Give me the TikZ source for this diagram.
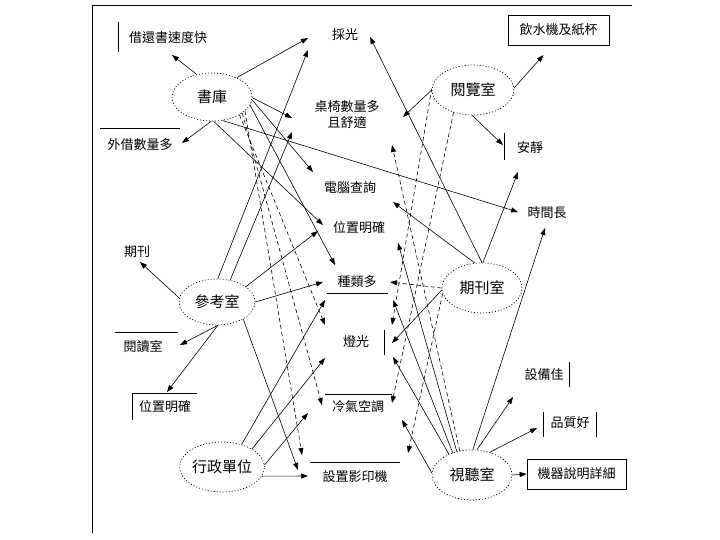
\documentclass[tikz,border=0pt]{standalone}
\usepackage{fontspec}
\newfontfamily\cjk{Noto Sans CJK TC}
\usetikzlibrary{shapes.geometric,arrows.meta}
\begin{document}
\begin{tikzpicture}[x=1pt,y=-1pt,
  room/.style={ellipse, draw, dash pattern=on 1pt off 2pt, line width=0.7pt, inner sep=0pt, font=\cjk\fontsize{15}{17}\selectfont},
  attr/.style={inner sep=0pt, font=\cjk\fontsize{13}{16}\selectfont},
  boxed/.style={attr, draw, line width=0.8pt},
  link/.style={line width=0.6pt, -{Triangle[length=7pt,width=5pt]}},
  dlink/.style={link, dash pattern=on 4pt off 3pt},
  deco/.style={line width=0.8pt}]
\useasboundingbox (0,0) rectangle (720,540);
\draw[deco] (632,5) -- (92,5) -- (92,533);

% rooms
\node[room, minimum width=80pt, minimum height=48pt] (S) at (212,97) {書庫};
\node[room, minimum width=82pt, minimum height=50pt] (L) at (473,90) {閱覽室};
\node[room, minimum width=76pt, minimum height=46pt] (R) at (217,302) {參考室};
\node[room, minimum width=80pt, minimum height=50pt] (P) at (482,288) {期刊室};
\node[room, minimum width=84pt, minimum height=50pt] (A) at (222,467) {行政單位};
\node[room, minimum width=80pt, minimum height=50pt] (V) at (472,475) {視聽室};

% attributes
\node[attr] (T1) at (168,38) {借還書速度快};
\node[attr] (T2) at (140,145) {外借數量多};
\node[attr] (T3) at (345,35) {採光};
\node[attr, align=center] (T4) at (347,115) {桌椅數量多\\且舒適};
\node[attr] (T5) at (350,188) {電腦查詢};
\node[attr] (T6) at (359,228) {位置明確};
\node[attr] (T7) at (357,282) {種類多};
\node[attr] (T8) at (356,342) {燈光};
\node[attr] (T9) at (358,407) {冷氣空調};
\node[attr] (T10) at (355,477) {設置影印機};
\node[attr] (T11) at (137,252) {期刊};
\node[attr] (T12) at (143,347) {閱讀室};
\node[attr] (T13) at (165,407) {位置明確};
\node[boxed, minimum width=101pt, minimum height=30pt] (T14) at (558.5,30) {飲水機及紙杯};
\node[attr] (T15) at (530,148) {安靜};
\node[attr] (T16) at (547,213) {時間長};
\node[attr] (T17) at (544,375) {設備佳};
\node[attr] (T18) at (570,423) {品質好};
\node[boxed, minimum width=99pt, minimum height=30pt] (T19) at (576.5,474) {機器說明詳細};

% partial frames
\draw[deco] (118,22) -- (118,52);
\draw[deco] (100,128) -- (180,128);
\draw[deco] (327,293) -- (388,293);
\draw[deco] (384,330) -- (384,355);
\draw[deco] (325,394) -- (392,394);
\draw[deco] (310,462) -- (400,462);
\draw[deco] (115,332) -- (178,332);
\draw[deco] (132,420) -- (132,393) -- (197,393);
\draw[deco] (504,133) -- (504,160);
\draw[deco] (569,362) -- (569,387);
\draw[deco] (543,412) -- (543,437);
\draw[deco] (596,412) -- (596,437);

% 書庫
\draw[link] (S.124) -- ([shift={(4,17)}]T1.center);
\draw[link] (S.38) -- ([shift={(-37,3)}]T3.center);
\draw[link] (S.-92) -- ([shift={(42,-2)}]T2.center);
\draw[link] (S.-1) -- ([shift={(-55,3)}]T4.center);
\draw[link] (S.-4) -- ([shift={(-37,-16)}]T5.center);
\draw[link] (S.-66) -- ([shift={(-29,-1)}]T16.center);
\draw[link] (S.-86) -- ([shift={(-36,-3)}]T6.center);
\draw[link] (S.-12) -- ([shift={(-22,-17)}]T7.center);
\draw[dlink] (S.-33) -- ([shift={(-31,-17)}]T8.center);
\draw[dlink] (S.-28) -- ([shift={(-36,-2)}]T9.center);
\draw[dlink] (S.-23) -- ([shift={(-53,-22)}]T10.center);

% 參考室
\draw[link] (R.174) -- ([shift={(3,10)}]T11.center);
\draw[link] (R.-88) -- ([shift={(37,-2)}]T12.center);
\draw[link] (R.-88) -- ([shift={(2,-15)}]T13.center);
\draw[link] (R.88) -- ([shift={(-37,15)}]T3.center);
\draw[link] (R.59) -- ([shift={(-55,17)}]T4.center);
\draw[link] (R.28) -- ([shift={(-41,3)}]T6.center);
\draw[link] (R.0) -- ([shift={(-34,0)}]T7.center);
\draw[link] (R.-33) -- ([shift={(-57,-7)}]T10.center);

% 行政單位
\draw[link] (A.49) -- ([shift={(-32,18)}]T7.center);
\draw[link] (A.31) -- ([shift={(-31,16)}]T8.center);
\draw[link] (A.3) -- ([shift={(-50,6)}]T9.center);
\draw[link] (A.-13) -- ([shift={(-47,-1)}]T10.center);

% 閱覽室
\draw[link] (L.3) -- ([shift={(-15,25)}]T14.center);
\draw[link] (L.-92) -- ([shift={(-27,-3)}]T15.center);
\draw[link] (L.180) -- ([shift={(56,2)}]T4.center);
\draw[dlink] (L.178) -- ([shift={(36,-17)}]T8.center);
\draw[dlink] (L.229) -- ([shift={(34,-4)}]T9.center);

% 期刊室
\draw[link] (P.90) -- ([shift={(25,2)}]T3.center);
\draw[link] (P.88) -- ([shift={(-12,24)}]T15.center);
\draw[link] (P.106) -- ([shift={(43,14)}]T5.center);
\draw[dlink] (P.180) -- ([shift={(33,0)}]T7.center);
\draw[link] (P.183) -- ([shift={(36,1)}]T8.center);
\draw[dlink] (P.188) -- ([shift={(53,-24)}]T10.center);

% 視聽室
\draw[link] (V.0) -- (T19.west);
\draw[link] (V.52) -- ([shift={(-33,5)}]T18.center);
\draw[link] (V.79) -- ([shift={(-31,22)}]T17.center);
\draw[link] (V.88) -- ([shift={(-2,15)}]T16.center);
\draw[dlink] (V.117) -- ([shift={(45,30)}]T4.center);
\draw[link] (V.123) -- ([shift={(39,15)}]T6.center);
\draw[link] (V.131) -- ([shift={(36,18)}]T7.center);
\draw[link] (V.138) -- ([shift={(37,15)}]T8.center);
\draw[link] (V.177) -- ([shift={(44,13)}]T9.center);
\end{tikzpicture}
\end{document}
